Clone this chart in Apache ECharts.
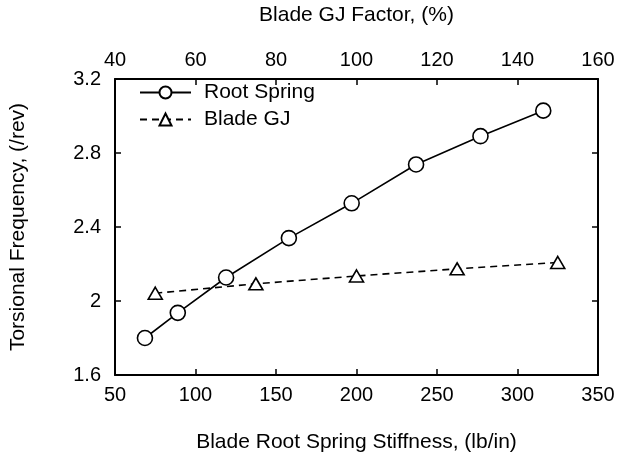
<!DOCTYPE html>
<html>
<head>
<meta charset="utf-8">
<style>
  html, body { margin: 0; padding: 0; background: #fff; }
  #chart { width: 625px; height: 458px; }
</style>
<script src="https://cdn.jsdelivr.net/npm/echarts@6/dist/echarts.min.js"></script>
</head>
<body>
<div id="chart"></div>
<script>
// Root spring sweep: stiffness (lb/in) vs torsional frequency (/rev)
const springStiffness = [68.6, 89, 119, 158, 197, 237, 277, 316];
const springFreq      = [1.80, 1.936, 2.127, 2.34, 2.528, 2.738, 2.891, 3.029];

// Blade GJ sweep: GJ factor (%) vs torsional frequency (/rev)
const gjFactor = [50, 75, 100, 125, 150];
const gjFreq   = [2.042, 2.093, 2.135, 2.174, 2.208];

const seriesNames = ['Root Spring', 'Blade GJ'];
const bottomAxisName = 'Blade Root Spring Stiffness, (lb/in)';
const topAxisName = 'Blade GJ Factor, (%)';
const yAxisName = 'Torsional Frequency, (/rev)';

const FONT = 'Liberation Sans, Arial, sans-serif';
const axisLine = { show: true, lineStyle: { color: '#000', width: 2 } };
const tickIn = { show: true, inside: true, length: 6, lineStyle: { color: '#000', width: 1.5 } };

const chart = echarts.init(document.getElementById('chart'), null, { renderer: 'canvas' });
chart.setOption({
  animation: false,
  backgroundColor: '#fff',
  textStyle: { fontFamily: FONT, color: '#000' },
  grid: { left: 109, right: 27, top: 68, bottom: 74, containLabel: false },
  legend: {
    left: 134, top: 77, orient: 'vertical',
    itemWidth: 51, itemHeight: 15, itemGap: 6,
    textStyle: { fontFamily: FONT, fontSize: 21, color: '#000', padding: [0, 0, 0, 8] },
    data: seriesNames
  },
  xAxis: [
    {
      type: 'value', position: 'bottom', min: 50, max: 350, interval: 50,
      name: bottomAxisName, nameLocation: 'middle', nameGap: 57,
      nameTextStyle: { fontFamily: FONT, fontSize: 21, color: '#000' },
      axisLine, axisTick: tickIn,
      axisLabel: { fontFamily: FONT, fontSize: 20, color: '#000', margin: 10 },
      splitLine: { show: false }
    },
    {
      type: 'value', position: 'top', min: 40, max: 160, interval: 20,
      name: topAxisName, nameLocation: 'middle', nameGap: 53,
      nameTextStyle: { fontFamily: FONT, fontSize: 21, color: '#000' },
      axisLine, axisTick: tickIn,
      axisLabel: { fontFamily: FONT, fontSize: 20, color: '#000', margin: 9 },
      splitLine: { show: false }
    }
  ],
  yAxis: [
    {
      type: 'value', position: 'left', min: 1.6, max: 3.2, interval: 0.4,
      name: yAxisName, nameLocation: 'middle', nameGap: 86,
      nameTextStyle: { fontFamily: FONT, fontSize: 21, color: '#000' },
      axisLine, axisTick: tickIn,
      axisLabel: { fontFamily: FONT, fontSize: 20, color: '#000', margin: 14 },
      splitLine: { show: false }
    },
    {
      type: 'value', position: 'right', min: 1.6, max: 3.2, interval: 0.4,
      axisLine, axisTick: tickIn,
      axisLabel: { show: false },
      splitLine: { show: false }
    }
  ],
  series: [
    {
      name: seriesNames[0], type: 'line',
      xAxisIndex: 0, yAxisIndex: 0,
      data: springStiffness.map((x, i) => [x, springFreq[i]]),
      symbol: 'circle', symbolSize: 15,
      lineStyle: { color: '#000', width: 1.6, type: 'solid' },
      itemStyle: { color: '#fff', borderColor: '#000', borderWidth: 1.6 },
      z: 3
    },
    {
      name: seriesNames[1], type: 'line',
      xAxisIndex: 1, yAxisIndex: 0,
      data: gjFactor.map((x, i) => [x, gjFreq[i]]),
      symbol: 'triangle', symbolSize: [14, 12],
      lineStyle: { color: '#000', width: 1.6, type: [7, 5] },
      itemStyle: { color: '#fff', borderColor: '#000', borderWidth: 1.6 },
      z: 2
    }
  ]
});
</script>
</body>
</html>
